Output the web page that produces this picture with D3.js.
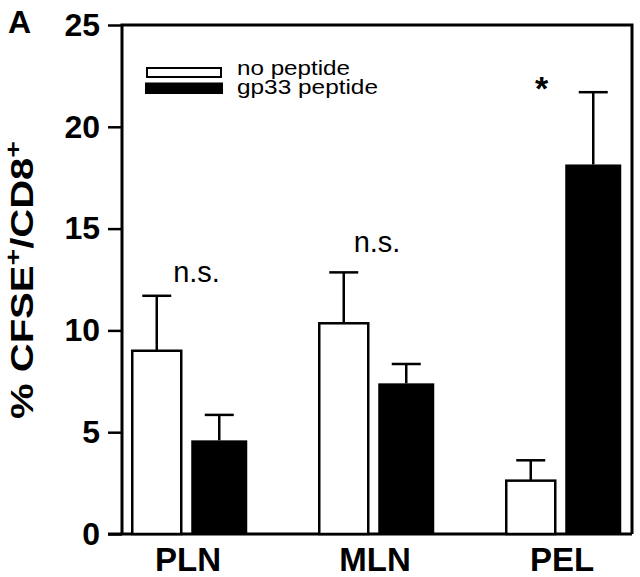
<!DOCTYPE html>
<html><head><meta charset="utf-8">
<script src="https://cdn.jsdelivr.net/npm/d3@7"></script>
<style>body{margin:0;background:#fff}svg{display:block}text{font-family:"Liberation Sans",Arial,sans-serif}</style>
</head><body>
<svg id="c" width="640" height="577"></svg>
<script>
const categories = ["PLN", "MLN", "PEL"];
const seriesNames = ["no peptide", "gp33 peptide"];
const noPeptide = [9.0, 10.35, 2.62];
const noPeptideErr = [2.7, 2.5, 1.0];
const gp33 = [4.6, 7.4, 18.15];
const gp33Err = [1.25, 0.95, 3.55];
const yTicks = [0, 5, 10, 15, 20, 25];
const annotations = ["n.s.", "n.s.", "*"];

const svg = d3.select("#c");
const y = d3.scaleLinear().domain([0, 25]).range([534, 25]);
const x = d3.scaleBand().domain(categories).range([94.5, 655.5]).padding(0);
const xs = d3.scaleBand().domain(seriesNames)
  .range([(x.bandwidth() - 118.5) / 2, (x.bandwidth() + 118.5) / 2]).paddingInner(0.104);

const data = categories.map((c, i) => ({c, vals: [
  {s: seriesNames[0], v: noPeptide[i], e: noPeptideErr[i]},
  {s: seriesNames[1], v: gp33[i], e: gp33Err[i]}
]}));

// frame
const L = 122, R = 632;
svg.append("path").attr("d", `M${L},${y(0)}V${y(25)}H${R}V${y(0)}`)
  .attr("fill", "none").attr("stroke", "#000").attr("stroke-width", 3);
svg.append("line").attr("x1", 108).attr("x2", R).attr("y1", y(0)).attr("y2", y(0))
  .attr("stroke", "#000").attr("stroke-width", 3);

// y axis
const yAxis = d3.axisLeft(y).tickValues(yTicks).tickSize(14).tickPadding(8);
const gy = svg.append("g").attr("transform", `translate(${L},0)`).call(yAxis);
gy.select(".domain").remove();
gy.selectAll(".tick line").attr("stroke", "#000").attr("stroke-width", 2.5);
gy.selectAll(".tick text").attr("font-size", 32).attr("font-weight", "bold").attr("fill", "#000")
  .attr("font-family", '"Liberation Sans",Arial,sans-serif');

// x axis labels
const xAxis = d3.axisBottom(x).tickSize(0).tickPadding(14);
const gx = svg.append("g").attr("transform", `translate(0,${y(0)})`).call(xAxis);
gx.select(".domain").remove();
gx.selectAll(".tick text").attr("font-size", 33).attr("font-weight", "bold").attr("fill", "#000")
  .attr("font-family", '"Liberation Sans",Arial,sans-serif');

// bars
const groups = svg.selectAll("g.grp").data(data).join("g").attr("class", "grp")
  .attr("transform", d => `translate(${x(d.c)},0)`);
groups.each(function(d) {
  const g = d3.select(this);
  d.vals.forEach((b, j) => {
    const bx = xs(b.s), bw = xs.bandwidth(), cx = bx + bw / 2;
    g.append("line").attr("x1", cx).attr("x2", cx).attr("y1", y(b.v)).attr("y2", y(b.v + b.e))
      .attr("stroke", "#000").attr("stroke-width", 2.5);
    g.append("line").attr("x1", cx - 14.5).attr("x2", cx + 14.5).attr("y1", y(b.v + b.e)).attr("y2", y(b.v + b.e))
      .attr("stroke", "#000").attr("stroke-width", 2.5);
    if (j === 0) {
      g.append("rect").attr("x", bx + 3.5).attr("width", bw - 7).attr("y", y(b.v)).attr("height", y(0) - y(b.v))
        .attr("fill", "#fff").attr("stroke", "#000").attr("stroke-width", 2.5);
    } else {
      g.append("rect").attr("x", bx).attr("width", bw).attr("y", y(b.v)).attr("height", y(0) - y(b.v))
        .attr("fill", "#000");
    }
  });
});

// annotations
const annY = [282, 252, 100];
const annX = [196.5 - x("PLN"), 377 - x("MLN"), 541.5 - x("PEL")];
annotations.forEach((t, i) => {
  const star = t === "*";
  svg.append("text").attr("x", x(categories[i]) + annX[i]).attr("y", annY[i])
    .attr("text-anchor", "middle").attr("font-size", star ? 34 : 29)
    .attr("font-weight", star ? "bold" : "normal").text(t);
});

// legend
const lg = svg.append("g");
lg.append("rect").attr("x", 147).attr("y", 68).attr("width", 74).attr("height", 9)
  .attr("fill", "#fff").attr("stroke", "#000").attr("stroke-width", 2);
lg.append("rect").attr("x", 145).attr("y", 82.5).attr("width", 78).attr("height", 11.5).attr("fill", "#000");
lg.append("text").attr("x", 237).attr("y", 74.5).attr("font-size", 20)
  .attr("textLength", 113).attr("lengthAdjust", "spacingAndGlyphs").text(seriesNames[0]);
lg.append("text").attr("x", 237).attr("y", 93.5).attr("font-size", 20)
  .attr("textLength", 141).attr("lengthAdjust", "spacingAndGlyphs").text(seriesNames[1]);

// panel letter
svg.append("text").attr("x", 8).attr("y", 33).attr("font-size", 32).attr("font-weight", "bold").text("A");

// y label
const yl = svg.append("text").attr("transform", "translate(33,280) rotate(-90)")
  .attr("text-anchor", "middle").attr("font-size", 31).attr("font-weight", "bold")
  .attr("textLength", 278).attr("lengthAdjust", "spacingAndGlyphs");
yl.append("tspan").text("% CFSE");
yl.append("tspan").attr("dy", -12).attr("font-size", 22).text("+");
yl.append("tspan").attr("dy", 12).text("/CD8");
yl.append("tspan").attr("dy", -12).attr("font-size", 22).text("+");
</script>
</body></html>
